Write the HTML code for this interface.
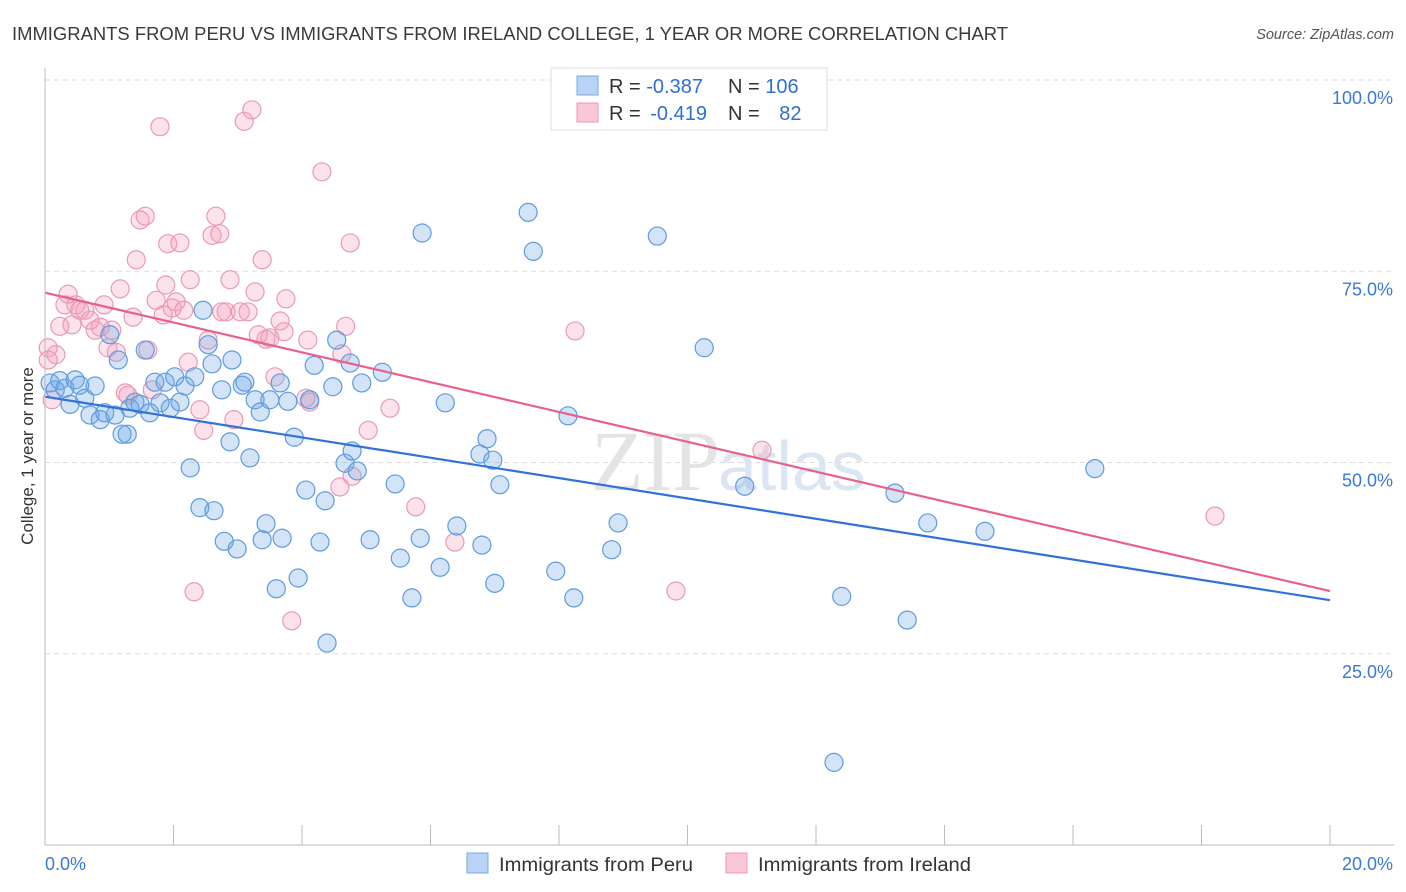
<!DOCTYPE html>
<html><head><meta charset="utf-8"><style>
body{margin:0;background:#fff;font-family:"Liberation Sans",sans-serif;}
#wrap{position:relative;width:1406px;height:892px;overflow:hidden}
</style></head><body><div id="wrap">
<svg id="svg" width="1406" height="892" xmlns="http://www.w3.org/2000/svg">
<text x="12" y="40" font-size="18" fill="#3a3a3a" textLength="996" lengthAdjust="spacingAndGlyphs">IMMIGRANTS FROM PERU VS IMMIGRANTS FROM IRELAND COLLEGE, 1 YEAR OR MORE CORRELATION CHART</text>
<text x="1394" y="39" font-size="14.5" fill="#555" font-style="italic" text-anchor="end">Source: ZipAtlas.com</text>
<text transform="translate(33,456) rotate(-90)" font-size="17" fill="#333" text-anchor="middle">College, 1 year or more</text>
<g id="grid"></g>
<text x="720" y="490" font-size="86" fill="#e4e4e4" text-anchor="end" font-family="Liberation Serif, serif">ZIP</text>
<text x="718" y="490" font-size="70" fill="#dce6f2">atlas</text>
<g id="pts"></g>
<g id="lines"></g>
<g id="ticks"></g>
<g>
<rect x="551" y="68" width="276" height="62" fill="#fff" stroke="#ddd"/>
<rect x="577" y="76" width="21" height="19" fill="#b8d3f5" stroke="#7aa8e0"/>
<rect x="577" y="103" width="21" height="19" fill="#f9c6d5" stroke="#ee9ab5"/>
<text x="609" y="93" font-size="20" fill="#333">R = <tspan fill="#2f6fd0">-0.387</tspan></text>
<text x="728" y="93" font-size="20" fill="#333">N = <tspan fill="#2f6fd0">106</tspan></text>
<text x="609" y="120" font-size="20" fill="#333">R = <tspan fill="#2f6fd0" dx="4">-0.419</tspan></text>
<text x="728" y="120" font-size="20" fill="#333">N = <tspan fill="#2f6fd0" dx="14">82</tspan></text>
</g>
<g>
<rect x="467" y="853" width="21" height="20" fill="#b8d3f5" stroke="#7aa8e0"/>
<text x="499" y="871" font-size="19" fill="#333" textLength="194" lengthAdjust="spacingAndGlyphs">Immigrants from Peru</text>
<rect x="726" y="853" width="21" height="20" fill="#f9c6d5" stroke="#ee9ab5"/>
<text x="758" y="871" font-size="19" fill="#333" textLength="213" lengthAdjust="spacingAndGlyphs">Immigrants from Ireland</text>
</g>
</svg>
<script>
const xTicks=[0,20];
const yTicks=[25,50,75,100];
const peruX=[0.08,0.16,0.23,0.31,0.39,0.47,0.54,0.62,0.70,0.78,0.86,0.93,1.01,1.09,1.14,1.20,1.28,1.32,1.40,1.48,1.56,1.63,1.71,1.79,1.87,1.95,2.02,2.10,2.18,2.26,2.33,2.41,2.46,2.54,2.60,2.63,2.75,2.79,2.88,2.91,2.99,3.07,3.11,3.19,3.27,3.35,3.38,3.44,3.50,3.60,3.66,3.69,3.78,3.88,3.94,4.06,4.12,4.19,4.28,4.36,4.39,4.48,4.54,4.67,4.75,4.78,4.86,4.93,5.06,5.25,5.45,5.53,5.71,5.84,5.87,6.15,6.23,6.41,6.77,6.80,6.88,6.97,7.00,7.08,7.52,7.60,7.95,8.14,8.23,8.82,8.92,9.53,10.26,10.89,12.28,12.40,13.23,13.42,13.74,14.63,16.34];
const peruY=[60.4,59.5,60.7,59.7,57.6,60.8,60.1,58.4,56.2,60.0,55.6,56.5,66.7,56.2,63.4,53.7,53.7,57.1,57.9,57.6,64.7,56.5,60.5,57.8,60.5,57.1,61.2,57.9,60.0,49.3,61.2,44.1,69.9,65.4,62.9,43.7,59.5,39.7,52.7,63.4,38.7,60.1,60.5,50.6,58.2,56.6,39.9,42.0,58.2,33.5,60.4,40.1,58.0,53.3,34.9,46.4,58.2,62.7,39.6,45.0,26.4,59.9,66.0,49.9,63.0,51.5,48.9,60.4,39.9,61.8,47.2,37.5,32.3,40.1,80.0,36.3,57.8,41.7,51.1,39.2,53.1,50.3,34.2,47.1,82.7,77.6,35.8,56.1,32.3,38.6,42.1,79.6,65.0,46.9,10.8,32.5,46.0,29.4,42.1,41.0,49.2];
const irelandX=[0.05,0.11,0.17,0.23,0.31,0.36,0.42,0.48,0.54,0.62,0.70,0.78,0.86,0.92,0.98,1.04,1.11,1.17,1.25,1.29,1.37,1.42,1.48,1.56,1.60,1.67,1.73,1.79,1.84,1.88,1.91,1.98,2.04,2.10,2.16,2.23,2.26,2.32,2.41,2.47,2.54,2.60,2.66,2.72,2.75,2.82,2.88,2.94,3.04,3.10,3.16,3.22,3.27,3.32,3.38,3.44,3.50,3.58,3.66,3.72,3.75,3.84,4.06,4.09,4.12,4.31,4.59,4.62,4.68,4.75,4.78,5.03,5.37,5.77,6.38,8.25,9.82,11.16,18.21,0.05];
const irelandY=[65.0,58.2,64.1,67.8,70.6,72.0,68.0,70.6,69.9,69.9,68.6,67.3,67.7,70.6,65.0,67.3,64.4,72.7,59.1,58.8,69.0,76.5,81.7,82.2,64.7,59.5,71.2,93.9,69.3,73.2,78.6,70.2,71.0,78.7,69.9,63.1,73.9,33.1,56.9,54.2,66.0,79.7,82.2,79.9,69.7,69.7,73.9,55.6,69.7,94.6,69.7,96.1,72.3,66.7,76.5,66.1,66.3,61.2,68.5,67.1,71.4,29.3,58.4,66.0,57.9,88.0,46.8,64.2,67.8,78.7,48.2,54.2,57.1,44.2,39.6,67.2,33.2,51.6,43.0,63.4];
const peruTrend=[58.6,32.0];
const irelandTrend=[72.2,33.2];
const X0=45,X1=1330,Y0=845,YTOP=80;
const sx=v=>X0+(v-0)/20*(X1-X0);
const sy=v=>Y0-v/100*(Y0-YTOP);
const NS='http://www.w3.org/2000/svg';
function mk(tag,attrs,parent){const e=document.createElementNS(NS,tag);for(const k in attrs)e.setAttribute(k,attrs[k]);parent.appendChild(e);return e;}
const grid=document.getElementById('grid'),ticks=document.getElementById('ticks'),pts=document.getElementById('pts'),lines=document.getElementById('lines');
yTicks.forEach(t=>{const y=sy(t);
const g=mk('line',{x1:X0,x2:1394,y1:y,y2:y,stroke:'#ddd','stroke-dasharray':'5,4'},grid);


const tx=mk('text',{x:1393,y:y+24,'font-size':18,fill:'#3a78d8','text-anchor':'end'},ticks);
tx.textContent=t.toFixed(1)+'%';


});
const ax=mk('line',{x1:X0,x2:X0,y1:68,y2:Y0,stroke:'#bbb'},ticks);


const bx=mk('line',{x1:X0,x2:1394,y1:Y0,y2:Y0,stroke:'#bbb'},ticks);


for(let i=1;i<=10;i++){const x=sx(i*2);
const tk=mk('line',{x1:x,x2:x,y1:825,y2:Y0,stroke:'#bbb'},ticks);

}
xTicks.forEach((t,i)=>{const tx=mk('text',{x:i?1393:45,y:870,'font-size':18,fill:'#3a78d8','text-anchor':i?'end':'start'},ticks);
tx.textContent=t.toFixed(1)+'%';

});
function scatter(xs,ys,fill,stroke,name){xs.forEach((v,i)=>{
const c=mk('circle',{cx:sx(v),cy:sy(ys[i]),r:9,fill:fill,stroke:stroke,'stroke-width':1.2},pts);

});}
scatter(irelandX,irelandY,'rgba(244,160,188,0.3)','#e99ab5','point-ireland');
scatter(peruX,peruY,'rgba(110,165,230,0.3)','#5d9be2','point-peru');
const l1=mk('line',{x1:sx(0),y1:sy(peruTrend[0]),x2:sx(20),y2:sy(peruTrend[1]),stroke:'#2f72d8','stroke-width':2.2},lines);


const l2=mk('line',{x1:sx(0),y1:sy(irelandTrend[0]),x2:sx(20),y2:sy(irelandTrend[1]),stroke:'#e8608e','stroke-width':2.2},lines);


</script></div></body></html>
